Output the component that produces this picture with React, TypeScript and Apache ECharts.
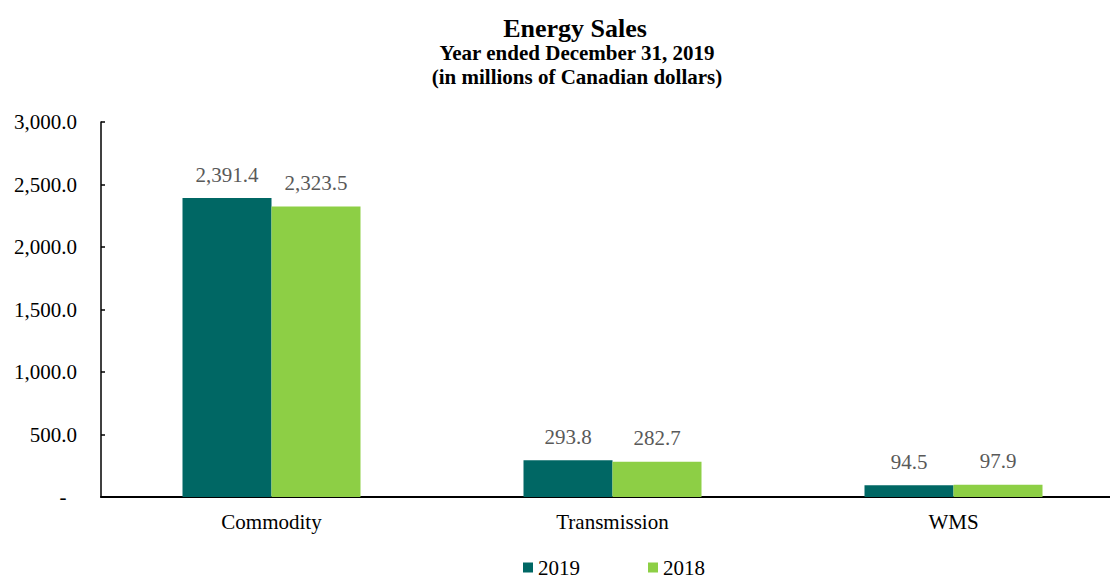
import React, { useEffect, useRef } from "react";
import * as echarts from "echarts";

const categories = ["Commodity", "Transmission", "WMS"];
const values2019 = [2391.4, 293.8, 94.5];
const values2018 = [2323.5, 282.7, 97.9];
const seriesNames = ["2019", "2018"];
const yTicks = { min: 0, max: 3000, interval: 500 };
const titleLines = ["Energy Sales", "Year ended December 31, 2019", "(in millions of Canadian dollars)"];

const FONT = "'Liberation Serif', 'Times New Roman', serif";

const fmt = (v: number) =>
  v === 0 ? "-" : v.toLocaleString("en-US", { minimumFractionDigits: 1, maximumFractionDigits: 1 });

export default function App() {
  const ref = useRef<HTMLDivElement>(null);
  useEffect(() => {
    if (!ref.current) return;
    const chart = echarts.init(ref.current, null, { renderer: "svg" });
    const labelStyle = {
      show: true,
      position: "top" as const,
      distance: 13,
      fontFamily: FONT,
      fontSize: 21,
      color: "#595959",
      formatter: (p: any) => fmt(p.value),
    };
    chart.setOption({
      animation: false,
      backgroundColor: "#ffffff",
      textStyle: { fontFamily: FONT },
      graphic: [
        {
          type: "text",
          x: 575,
          y: 15,
          style: { text: titleLines[0], font: `bold 26px ${FONT}`, fill: "#000", align: "center" },
        },
        {
          type: "text",
          x: 577,
          y: 42,
          style: { text: titleLines[1], font: `bold 21px ${FONT}`, fill: "#000", align: "center" },
        },
        {
          type: "text",
          x: 577,
          y: 66,
          style: { text: titleLines[2], font: `bold 21px ${FONT}`, fill: "#000", align: "center" },
        },
      ],
      legend: {
        data: seriesNames,
        left: 518,
        top: 552,
        itemWidth: 10,
        itemHeight: 10,
        itemGap: 68,
        icon: "rect",
        textStyle: { fontFamily: FONT, fontSize: 21, color: "#000" },
      },
      grid: { left: 101, top: 122, width: 1023, bottom: 83, containLabel: false },
      xAxis: {
        type: "category",
        data: categories,
        axisLine: { lineStyle: { color: "#000", width: 2 } },
        axisTick: { show: false },
        axisLabel: { fontFamily: FONT, fontSize: 21, color: "#000", margin: 14 },
      },
      yAxis: {
        type: "value",
        min: yTicks.min,
        max: yTicks.max,
        interval: yTicks.interval,
        splitLine: { show: false },
        axisLine: { show: true, lineStyle: { color: "#000", width: 1.5 } },
        axisTick: { show: true, inside: true, length: 4, lineStyle: { color: "#000", width: 1.5 } },
        axisLabel: {
          fontFamily: FONT,
          fontSize: 21,
          color: "#000",
          margin: 24,
          formatter: (v: number) => (v === 0 ? "-  " : fmt(v)),
        },
      },
      series: [
        {
          name: seriesNames[0],
          type: "bar",
          data: values2019,
          barWidth: 89,
          barGap: "0%",
          itemStyle: { color: "#006764" },
          label: labelStyle,
        },
        {
          name: seriesNames[1],
          type: "bar",
          data: values2018,
          barWidth: 89,
          barGap: "0%",
          itemStyle: { color: "#8DCF45" },
          label: labelStyle,
        },
      ],
    });
    return () => chart.dispose();
  }, []);
  return (
    <div style={{ position: "fixed", left: 0, top: 0, width: 1110, height: 580, overflow: "hidden" }}>
      <div ref={ref} style={{ width: 1124, height: 580 }} />
    </div>
  );
}
